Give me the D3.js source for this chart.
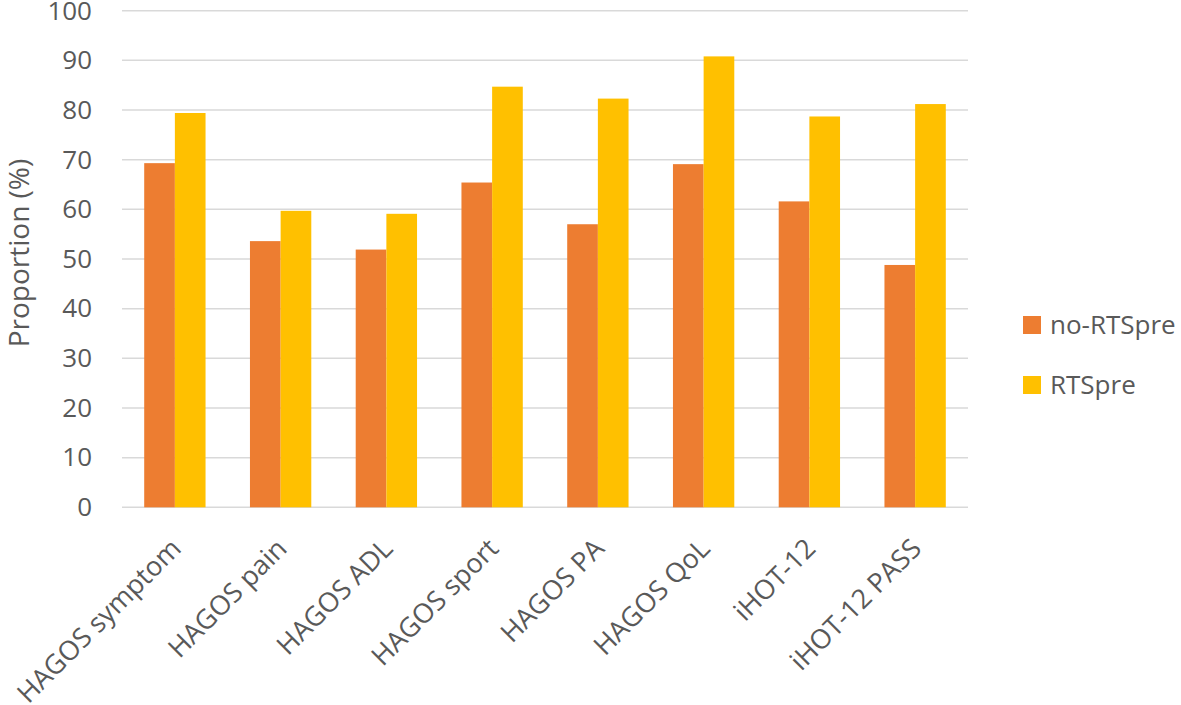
<!DOCTYPE html>
<html>
<head>
<meta charset="utf-8">
<script src="https://cdn.jsdelivr.net/npm/d3@7"></script>
<style>
  body { margin: 0; background: #fff; }
  text { font-family: "Open Sans", sans-serif; fill: #595959; }
</style>
</head>
<body>
<div id="chart"></div>
<script>
const categories = ['HAGOS symptom', 'HAGOS pain', 'HAGOS ADL', 'HAGOS sport', 'HAGOS PA', 'HAGOS QoL', 'iHOT-12', 'iHOT-12 PASS'];
const seriesNames = ['no-RTSpre', 'RTSpre'];
const noRTSpre = [69.3, 53.6, 51.9, 65.4, 57.0, 69.1, 61.6, 48.8];
const RTSpre = [79.4, 59.7, 59.1, 84.7, 82.3, 90.8, 78.7, 81.2];
const yTicks = [0, 10, 20, 30, 40, 50, 60, 70, 80, 90, 100];
const colors = ['#ED7D31', '#FFC000'];

const width = 1181;
const height = 705;
const plotLeft = 122, plotRight = 968, plotTop = 10.7, plotBottom = 507.3;

const rows = categories.map((c, i) => ({ cat: c, values: [noRTSpre[i], RTSpre[i]] }));

const svg = d3.select('#chart').append('svg')
  .attr('width', width)
  .attr('height', height);

const x0 = d3.scaleBand()
  .domain(categories)
  .range([plotLeft, plotRight])
  .paddingInner(0.42)
  .paddingOuter(0.21);

const x1 = d3.scaleBand()
  .domain([0, 1])
  .range([0, x0.bandwidth()]);

const y = d3.scaleLinear()
  .domain([0, 100])
  .range([plotBottom, plotTop]);

// gridlines
svg.append('g')
  .selectAll('line')
  .data(yTicks)
  .enter()
  .append('line')
  .attr('x1', plotLeft)
  .attr('x2', plotRight)
  .attr('y1', d => y(d))
  .attr('y2', d => y(d))
  .attr('stroke', '#d9d9d9')
  .attr('stroke-width', 1.5);

// bars
const groups = svg.append('g')
  .selectAll('g')
  .data(rows)
  .enter()
  .append('g')
  .attr('transform', d => `translate(${x0(d.cat)},0)`);

groups.selectAll('rect')
  .data(d => d.values.map((v, k) => ({ v, k })))
  .enter()
  .append('rect')
  .attr('x', d => x1(d.k))
  .attr('y', d => y(d.v))
  .attr('width', x1.bandwidth())
  .attr('height', d => y(0) - y(d.v))
  .attr('fill', d => colors[d.k]);

// y axis
const yAxis = d3.axisLeft(y)
  .tickValues(yTicks)
  .tickSize(0)
  .tickPadding(30);

svg.append('g')
  .attr('transform', `translate(${plotLeft},0)`)
  .call(yAxis)
  .call(g => g.select('.domain').remove())
  .selectAll('text')
  .style('font-size', '26px')
  .attr('fill', '#595959');

// x axis
const xAxis = d3.axisBottom(x0).tickSize(0);

svg.append('g')
  .attr('transform', `translate(0,${plotBottom})`)
  .call(xAxis)
  .call(g => g.select('.domain').remove())
  .selectAll('text')
  .style('font-size', '27px')
  .attr('fill', '#595959')
  .attr('text-anchor', 'end')
  .attr('x', 0)
  .attr('y', 0)
  .attr('dy', '0.36em')
  .attr('transform', 'translate(1,36) rotate(-45)');

// y title
svg.append('text')
  .attr('transform', 'translate(29,253) rotate(-90)')
  .attr('text-anchor', 'middle')
  .style('font-size', '28px')
  .text('Proportion (%)');

// legend
const legend = svg.append('g')
  .selectAll('g')
  .data(seriesNames)
  .enter()
  .append('g')
  .attr('transform', (d, i) => `translate(1023,${325 + i * 60})`);

legend.append('rect')
  .attr('x', 0)
  .attr('y', -9)
  .attr('width', 18)
  .attr('height', 18)
  .attr('fill', (d, i) => colors[i]);

legend.append('text')
  .attr('x', 27)
  .attr('y', 0)
  .attr('dy', '0.35em')
  .style('font-size', '26px')
  .text(d => d);
</script>
</body>
</html>
